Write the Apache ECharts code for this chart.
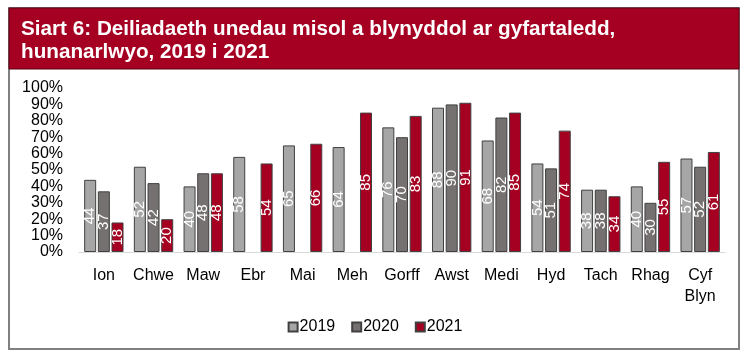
<!DOCTYPE html>
<html><head><meta charset="utf-8">
<script src="https://cdn.jsdelivr.net/npm/echarts@6/dist/echarts.min.js"></script>
<style>html,body{margin:0;padding:0;background:#fff;}#c{width:750px;height:362px;}</style>
</head><body><div id="c"></div>
<script>
var categories = ['Ion','Chwe','Maw','Ebr','Mai','Meh','Gorff','Awst','Medi','Hyd','Tach','Rhag','Cyf\nBlyn'];
var seriesNames = ['2019','2020','2021'];
var values2019 = [44,52,40,58,65,64,76,88,68,54,38,40,57];
var values2020 = [37,42,48,null,null,null,70,90,82,51,38,30,52];
var values2021 = [18,20,48,54,66,85,83,91,85,74,34,55,61];
var colors = ['#a6a6a6','#767171','#a50021'];
var FONT = 'Liberation Sans, Arial, sans-serif';

var chart = echarts.init(document.getElementById('c'));
function mk(name, data, color){
  return {
    name: name, type: 'bar', data: data,
    barWidth: 12, barGap: '14%',
    itemStyle: {color: color, borderColor: '#404040', borderWidth: 1},
    label: {show: true, position: 'inside', rotate: 90, color: '#fff', fontSize: 15, fontFamily: FONT},
    emphasis: {disabled: true}
  };
}
chart.setOption({
  animation: false,
  textStyle: {fontFamily: FONT},
  graphic: [
    {type: 'rect', shape: {x: 9, y: 8, width: 730, height: 341}, style: {fill: '#fff', stroke: '#808080', lineWidth: 2}, z: -10},
    {type: 'rect', shape: {x: 9, y: 8, width: 730, height: 61}, style: {fill: '#a50021', stroke: '#5a0012', lineWidth: 1}, z: -5}
  ],
  title: {
    text: 'Siart 6: Deiliadaeth unedau misol a blynyddol ar gyfartaledd,\nhunanarlwyo, 2019 i 2021',
    left: 16, top: 13,
    textStyle: {color: '#fff', fontSize: 20.7, fontWeight: 'bold', fontFamily: FONT, lineHeight: 23}
  },
  legend: {
    data: seriesNames, bottom: 22, left: 'center',
    icon: 'rect', itemWidth: 9, itemHeight: 9, itemGap: 16,
    textStyle: {fontSize: 16, color: '#000', fontFamily: FONT, padding: [0,0,0,-3]}
  },
  grid: {left: 79, right: 25, top: 88, bottom: 110, containLabel: false},
  xAxis: {
    type: 'category', data: categories,
    axisLine: {lineStyle: {color: '#d9d9d9', width: 1}},
    axisTick: {show: false},
    axisLabel: {color: '#000', fontSize: 16, margin: 13, interval: 0, lineHeight: 21, fontFamily: FONT}
  },
  yAxis: {
    type: 'value', min: 0, max: 100, interval: 10,
    axisLine: {show: false}, axisTick: {show: false}, splitLine: {show: false},
    axisLabel: {formatter: '{value}%', color: '#000', fontSize: 16, margin: 16, fontFamily: FONT}
  },
  series: [mk('2019', values2019, colors[0]), mk('2020', values2020, colors[1]), mk('2021', values2021, colors[2])]
});
</script></body></html>
